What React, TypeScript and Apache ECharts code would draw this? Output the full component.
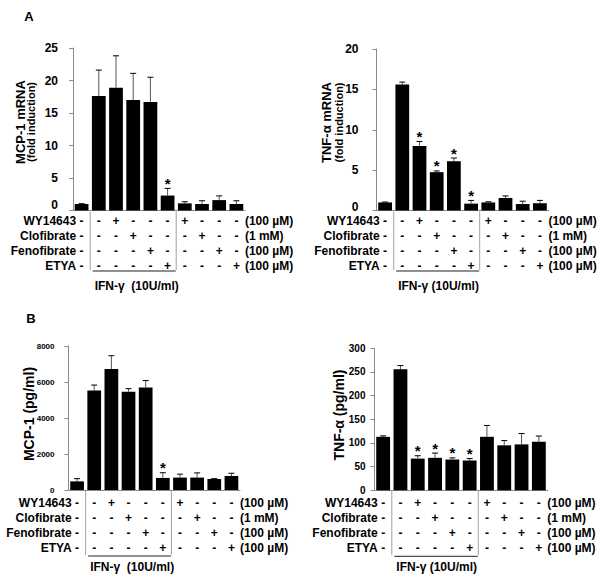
import React, { useEffect, useRef } from "react";
import * as echarts from "echarts";

// ---------- data ----------
const columns = ["1", "2", "3", "4", "5", "6", "7", "8", "9", "10"];

const rowNames = ["WY14643", "Clofibrate", "Fenofibrate", "ETYA"];
const rowUnits = ["(100 µM)", "(1 mM)", "(100 µM)", "(100 µM)"];
const wy14643 = ["-", "-", "+", "-", "-", "-", "+", "-", "-", "-"];
const clofibrate = ["-", "-", "-", "+", "-", "-", "-", "+", "-", "-"];
const fenofibrate = ["-", "-", "-", "-", "+", "-", "-", "-", "+", "-"];
const etya = ["-", "-", "-", "-", "-", "+", "-", "-", "-", "+"];
const treatmentRows = [wy14643, clofibrate, fenofibrate, etya];

// A: mRNA fold induction
const mcp1Mrna = [1.0, 17.6, 18.9, 17.0, 16.7, 2.3, 1.1, 1.0, 1.6, 1.0];
const mcp1MrnaErr = [0.05, 4.0, 4.9, 4.1, 3.8, 1.1, 0.25, 0.5, 0.65, 0.5];
const mcp1MrnaStars = [5];

const tnfMrna = [1.0, 15.6, 8.0, 4.75, 6.1, 0.85, 1.0, 1.55, 0.8, 0.9];
const tnfMrnaErr = [0.05, 0.3, 0.55, 0.15, 0.4, 0.4, 0.08, 0.25, 0.35, 0.35];
const tnfMrnaStars = [2, 3, 4, 5];

// B: protein (pg/ml)
const mcp1Protein = [480, 5530, 6720, 5460, 5700, 670, 690, 690, 610, 780];
const mcp1ProteinErr = [150, 300, 740, 170, 380, 290, 190, 260, 20, 150];
const mcp1ProteinStars = [5];

const tnfProtein = [113, 255.5, 67, 68.6, 65, 63, 113, 95, 97, 102.6];
const tnfProteinErr = [2, 8, 6, 10, 3.5, 4, 24, 10, 23, 12];
const tnfProteinStars = [2, 3, 4, 5];

const FONT = "'Liberation Sans', Arial, sans-serif";

type Panel = {
  values: number[];
  errs: number[];
  stars: number[];
  grid: { left: number; top: number; width: number; height: number };
  max: number;
  interval: number;
  tickFont: number;
  tickMargin: number;
  zeroLift: number;
  title: string;
  titleX: number;
  titleSize: number;
  sub?: string;
  subX?: number;
  titleY: number;
  ifnText: string;
  rowOffset: number;
  lineOffset: number;
  textOffset: number;
};

const panels: Panel[] = [
  {
    values: mcp1Mrna, errs: mcp1MrnaErr, stars: mcp1MrnaStars,
    grid: { left: 73, top: 48, width: 172, height: 162.5 },
    max: 25, interval: 5, tickFont: 12, tickMargin: 15, zeroLift: 6,
    title: "MCP-1 mRNA", titleX: 20, titleSize: 13, sub: "(fold induction)", subX: 31, titleY: 122,
    ifnText: "IFN-γ  (10U/ml)", rowOffset: 10.7, lineOffset: 60.5, textOffset: 75.5,
  },
  {
    values: tnfMrna, errs: tnfMrnaErr, stars: tnfMrnaStars,
    grid: { left: 376.5, top: 49, width: 172, height: 161.5 },
    max: 20, interval: 5, tickFont: 12, tickMargin: 18, zeroLift: 4,
    title: "TNF-α mRNA", titleX: 326, titleSize: 13, sub: "(fold induction)", subX: 339, titleY: 122.5,
    ifnText: "IFN-γ (10U/ml)", rowOffset: 10.7, lineOffset: 60.5, textOffset: 75.5,
  },
  {
    values: mcp1Protein, errs: mcp1ProteinErr, stars: mcp1ProteinStars,
    grid: { left: 68.5, top: 346, width: 171.5, height: 144 },
    max: 8000, interval: 2000, tickFont: 8, tickMargin: 14, zeroLift: 0,
    title: "MCP-1 (pg/ml)", titleX: 28.5, titleSize: 14, titleY: 414,
    ifnText: "IFN-γ  (10U/ml)", rowOffset: 12.7, lineOffset: 66, textOffset: 77,
  },
  {
    values: tnfProtein, errs: tnfProteinErr, stars: tnfProteinStars,
    grid: { left: 374.5, top: 348.3, width: 173, height: 142 },
    max: 300, interval: 50, tickFont: 10, tickMargin: 9, zeroLift: 0,
    title: "TNF-α (pg/ml)", titleX: 338.5, titleSize: 14, titleY: 415,
    ifnText: "IFN-γ (10U/ml)", rowOffset: 12.7, lineOffset: 66, textOffset: 77,
  },
];

function buildOption() {
  const grid: any[] = [];
  const xAxis: any[] = [];
  const yAxis: any[] = [];
  const series: any[] = [];
  const graphic: any[] = [
    { type: "text", x: 29, y: 16.5, style: { text: "A", font: `bold 13px ${FONT}`, fill: "#000", align: "center", verticalAlign: "middle" } },
    { type: "text", x: 31, y: 318.5, style: { text: "B", font: `bold 13px ${FONT}`, fill: "#000", align: "center", verticalAlign: "middle" } },
  ];

  panels.forEach((p, k) => {
    grid.push({ ...p.grid, containLabel: false });
    xAxis.push({
      type: "category", gridIndex: k, data: columns,
      axisLine: { show: true, lineStyle: { color: "#8a8a8a", width: 1 } },
      axisTick: { show: false }, axisLabel: { show: false }, splitLine: { show: false },
    });
    yAxis.push({
      type: "value", gridIndex: k, min: 0, max: p.max, interval: p.interval,
      splitLine: { show: false },
      axisLine: { show: true, lineStyle: { color: "#8a8a8a", width: 1 } },
      axisTick: { show: true, length: 4, lineStyle: { color: "#8a8a8a" } },
      axisLabel: {
        fontSize: p.tickFont, fontWeight: "bold", color: "#000", margin: p.tickMargin, fontFamily: FONT,
        formatter: (v: number) => (v === 0 && p.zeroLift ? "{z|0}" : String(v)),
        rich: {
          z: {
            fontSize: p.tickFont, fontWeight: "bold", color: "#000", fontFamily: FONT,
            padding: [0, 0, p.zeroLift * 2, 0],
          },
        },
      },
    });
    series.push({
      type: "bar", xAxisIndex: k, yAxisIndex: k, data: p.values, barWidth: "80%",
      itemStyle: { color: "#000" }, silent: true,
    });
    series.push({
      type: "custom", xAxisIndex: k, yAxisIndex: k, clip: false, silent: true,
      encode: { x: 0, y: 1 },
      data: p.values.map((v, i) => [i, v, p.errs[i], p.stars.includes(i) ? 1 : 0]),
      renderItem: (_params: any, api: any) => {
        const i = api.value(0);
        const v = api.value(1);
        const e = api.value(2);
        const s = api.value(3);
        const base = api.coord([i, v]);
        const top = api.coord([i, v + e]);
        const children: any[] = [
          { type: "line", shape: { x1: base[0], y1: base[1], x2: top[0], y2: top[1] }, style: { stroke: "#555", lineWidth: 1 } },
          { type: "line", shape: { x1: top[0] - 3, y1: top[1], x2: top[0] + 3, y2: top[1] }, style: { stroke: "#000", lineWidth: 1 } },
        ];
        if (s) {
          children.push({
            type: "text", x: top[0], y: top[1] - 5,
            style: { text: "*", font: `bold 15px ${FONT}`, fill: "#000", align: "center", verticalAlign: "middle" },
          });
        }
        return { type: "group", children };
      },
    });
    series.push({
      type: "custom", xAxisIndex: k, yAxisIndex: k, clip: false, silent: true,
      encode: { x: 0, y: 1 },
      data: [[0, 0]],
      renderItem: (_params: any, api: any) => {
        const bw = api.size([1, 0])[0];
        const cx = (i: number) => api.coord([i, 0])[0];
        const axisY = api.coord([0, 0])[1];
        const children: any[] = [];
        const font = `bold 12px ${FONT}`;
        treatmentRows.forEach((row, r) => {
          const y = axisY + p.rowOffset + r * 15;
          children.push({ type: "text", x: cx(0) - 5.5, y, style: { text: rowNames[r], font, fill: "#000", align: "right", verticalAlign: "middle" } });
          row.forEach((sym, i) => {
            children.push({ type: "text", x: cx(i), y, style: { text: sym, font, fill: "#000", align: "center", verticalAlign: "middle" } });
          });
          children.push({ type: "text", x: cx(columns.length - 1) + 8.5, y, style: { text: rowUnits[r], font, fill: "#000", align: "left", verticalAlign: "middle" } });
        });
        const lineY = axisY + p.lineOffset;
        [(cx(0) + cx(1)) / 2, (cx(5) + cx(6)) / 2].forEach((sx) => {
          children.push({ type: "line", shape: { x1: sx, y1: axisY + 1, x2: sx, y2: lineY - 1 }, style: { stroke: "#a0a0a0", lineWidth: 1 } });
        });
        const lx1 = cx(1) - bw / 2 + 2.5;
        const lx2 = cx(5) + bw / 2 - 0.5;
        children.push({ type: "line", shape: { x1: lx1, y1: lineY, x2: lx2, y2: lineY }, style: { stroke: "#222", lineWidth: 1 } });
        children.push({ type: "text", x: lx1 + 2, y: axisY + p.textOffset, style: { text: p.ifnText, font, fill: "#000", align: "left", verticalAlign: "middle" } });
        return { type: "group", children };
      },
    });
    graphic.push({
      type: "text", x: p.titleX, y: p.titleY, rotation: Math.PI / 2,
      style: { text: p.title, font: `bold ${p.titleSize}px ${FONT}`, fill: "#000", align: "center", verticalAlign: "middle" },
    });
    if (p.sub) {
      graphic.push({
        type: "text", x: p.subX, y: p.titleY, rotation: Math.PI / 2,
        style: { text: p.sub, font: `bold 11px ${FONT}`, fill: "#000", align: "center", verticalAlign: "middle" },
      });
    }
  });

  return { animation: false, backgroundColor: "#fff", grid, xAxis, yAxis, series, graphic };
}

export default function App() {
  const ref = useRef<HTMLDivElement>(null);
  useEffect(() => {
    if (!ref.current) return;
    const chart = echarts.init(ref.current, undefined, { renderer: "svg" });
    chart.setOption(buildOption() as any);
    return () => chart.dispose();
  }, []);
  return (
    <div
      ref={ref}
      style={{ position: "fixed", left: 0, top: 0, width: 600, height: 580, background: "#fff" }}
    />
  );
}
